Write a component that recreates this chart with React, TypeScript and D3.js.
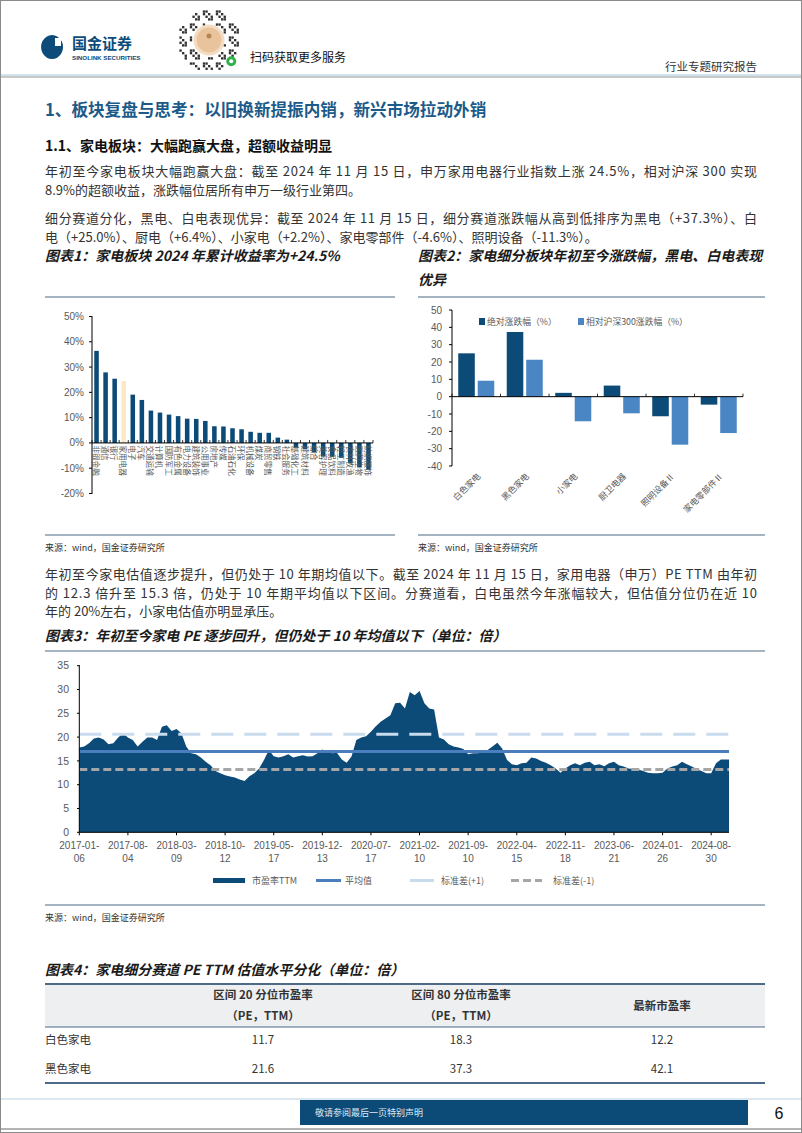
import React from 'react';
import * as d3 from 'd3';

// ---------- Chart 1 data ----------
const industryNames = ['非银金融','通信','银行','家用电器','电子','汽车','交通运输','计算机','国防军工','有色金属','电力设备','建筑装饰','公用事业','房地产','传媒','石油石化','环保','机械设备','煤炭','商贸零售','钢铁','社会服务','基础化工','建筑材料','综合','美容护理','食品饮料','轻工制造','农林牧渔','医药生物','纺织服饰'];
const industryReturns = [36.4, 27.9, 25.4, 24.5, 19.1, 17.0, 12.8, 12.0, 11.2, 10.6, 9.6, 9.5, 8.7, 6.6, 6.5, 5.8, 5.4, 4.4, 4.0, 4.0, 2.1, 1.3, -1.8, -2.4, -3.8, -5.4, -5.5, -5.9, -8.1, -9.7, -10.6];
const highlightIndustry = '家用电器';
const pctTicks = [50, 40, 30, 20, 10, 0, -10, -20];

// ---------- Chart 2 data ----------
const segNames = ['白色家电','黑色家电','小家电','厨卫电器','照明设备Ⅱ','家电零部件Ⅱ'];
const segAbs = [25.0, 37.3, 2.2, 6.4, -11.3, -4.6];
const segRel = [9.2, 21.3, -14.2, -9.6, -27.7, -21.0];
const segSeries = ['绝对涨跌幅（%）', '相对沪深300涨跌幅（%）'];
const segTicks = [50, 40, 30, 20, 10, 0, -10, -20, -30, -40];

// ---------- Chart 3 data (PE TTM, sampled every 3 weeks) ----------
const peValues = [
  17.8, 18.0, 18.7, 19.7, 19.9, 19.5, 18.5, 18.7, 19.9, 20.8,
  19.9, 19.4, 18.0, 19.0, 19.9, 19.9, 19.4, 22.2, 22.5, 21.3,
  21.7, 20.8, 18.0, 16.6, 16.4, 15.7, 14.8, 14.1, 12.9, 12.4,
  12.0, 11.7, 11.5, 11.1, 10.8, 11.8, 12.4, 13.4, 15.2, 17.3,
  16.0, 15.7, 16.0, 16.4, 15.7, 16.0, 16.2, 15.9, 16.0, 16.6,
  17.4, 16.9, 16.6, 16.7, 15.3, 14.6, 15.9, 19.4, 19.9, 20.2,
  21.1, 22.3, 23.2, 23.9, 24.6, 27.1, 27.2, 26.0, 29.5, 28.8,
  29.7, 27.1, 26.0, 25.8, 19.9, 19.5, 18.5, 18.0, 17.8, 17.5,
  16.4, 16.6, 16.6, 16.9, 17.3, 18.0, 18.8, 17.6, 15.2, 14.3,
  14.1, 14.5, 14.6, 15.7, 15.5, 15.0, 14.6, 14.1, 13.4, 12.5,
  13.4, 14.1, 14.5, 14.1, 14.6, 14.8, 14.1, 14.3, 13.9, 14.5,
  14.8, 14.1, 13.8, 13.4, 13.3, 13.2, 12.9, 12.5, 12.4, 12.4,
  12.5, 13.4, 13.8, 14.1, 14.8, 14.3, 13.8, 13.3, 12.9, 12.4,
  12.4, 14.5, 15.3, 15.3
];
const peSampleStep = 3;
const peLatestWeek = 401;
const peLatest = 15.3;
const peMean = 17.0;
const peUpper = 20.6;
const peLower = 13.2;
const peTickWeeks = [0, 30, 60, 90, 120, 150, 180, 210, 240, 270, 300, 330, 360, 390];
const peTickLabels = ['2017-01-06','2017-08-04','2018-03-09','2018-10-12','2019-05-17','2019-12-13','2020-07-17','2021-02-10','2021-09-10','2022-04-15','2022-11-18','2023-06-21','2024-01-26','2024-08-30'];
const peYTicks = [0, 5, 10, 15, 20, 25, 30, 35];
const peLegend = ['市盈率TTM', '平均值', '标准差(+1)', '标准差(-1)'];

// ---------- Table data ----------
const tableRowNames = ['白色家电', '黑色家电'];
const tablePe20 = ['11.7', '21.6'];
const tablePe80 = ['18.3', '37.3'];
const tablePeNow = ['12.2', '42.1'];

const cjk = '"Noto Sans CJK SC", "Noto Sans", sans-serif';
const latin = '"Liberation Sans", Arial, sans-serif';
const navy = '#0c4a77';
const midBlue = '#4a86c4';
const axisGray = '#595959';
const textCol = '#333333';

function QRDecor({ cx, cy, r }: { cx: number; cy: number; r: number }) {
  const cells: JSX.Element[] = [];
  const s = 2.6;
  for (let i = -14; i <= 14; i++) {
    for (let j = -14; j <= 14; j++) {
      const px = cx + i * s, py = cy + j * s;
      const d = Math.hypot(i * s, j * s);
      if (d > r || d < r * 0.52) continue;
      if (((i * 7 + j * 13 + i * j) % 5 + 5) % 5 < 2) {
        cells.push(<rect key={i + '_' + j} x={px} y={py} width={s * 0.9} height={s * 0.9} fill="#333" />);
      }
    }
  }
  return (
    <g>
      {cells}
      <circle cx={cx + 1} cy={cy + 1} r={r * 0.5} fill="#f3dcc1" />
      <circle cx={cx + 1} cy={cy + 1} r={r * 0.4} fill="#e9c39b" />
      <circle cx={cx + 1} cy={cy - 3} r={2.5} fill="#b78553" />
      <circle cx={cx + r * 0.75} cy={cy + r * 0.72} r={5} fill="#2fb14b" />
      <circle cx={cx + r * 0.75} cy={cy + r * 0.72} r={2} fill="#fff" />
    </g>
  );
}

export default function App() {
  // Chart 1 scales
  const x1 = d3.scaleBand<string>().domain(industryNames).range([92, 373]).paddingInner(0.5).paddingOuter(0.25);
  const y1 = d3.scaleLinear().domain([-20, 50]).range([493.5, 316.5]);
  const step1 = x1.step();

  // Chart 2 scales
  const x2 = d3.scaleBand<string>().domain(segNames).range([452, 743]);
  const x2i = d3.scaleBand<string>().domain(['abs', 'rel']).range([0, x2.bandwidth()]).paddingInner(0.15).paddingOuter(0.32);
  const y2 = d3.scaleLinear().domain([-40, 50]).range([466, 310]);

  // Chart 3 scales
  const x3 = d3.scaleLinear().domain([0, peLatestWeek]).range([79.3, 729]);
  const y3 = d3.scaleLinear().domain([0, 35]).range([832.3, 665.7]);
  const peSeries = peValues.map((v, i) => ({ w: i * peSampleStep, v }));
  peSeries.push({ w: peLatestWeek, v: peLatest });
  const areaGen = d3.area<{ w: number; v: number }>().x(d => x3(d.w)).y0(y3(0)).y1(d => y3(d.v));

  const para = (y: number, s: string, full: boolean) => (
    <text x={45} y={y} fontFamily={cjk} fontSize={13} fill={textCol} {...(full ? { textLength: 712, lengthAdjust: 'spacing' } : {})}>{s}</text>
  );

  return (
    <svg width={802} height={1133} viewBox="0 0 802 1133" style={{ position: 'absolute', left: 0, top: 0, background: '#fff' }}>
      <rect x={0} y={0} width={802} height={1133} fill="#fff" />
      <rect x={0.5} y={0.5} width={801} height={1132} fill="none" stroke="#8a8a8a" strokeWidth={1} />

      {/* Header */}
      <g>
        <path d="M52,35 a11,12 0 1,0 0.1,0 z" fill="#0d4c7a" />
        <path d="M55,38 l6,0 l0,8 l-6,0 z" fill="#fff" />
        <text x={72} y={49} fontFamily={cjk} fontWeight={700} fontSize={15} fill="#0d4c7a">国金证券</text>
        <text x={72} y={60} fontFamily={latin} fontWeight={700} fontSize={6.2} fill="#0d4c7a">SINOLINK SECURITIES</text>
        <QRDecor cx={208} cy={39} r={31} />
        <text x={250} y={62} fontFamily={cjk} fontSize={12} fill="#111">扫码获取更多服务</text>
        <text x={757} y={71} textAnchor="end" fontFamily={cjk} fontSize={11.5} fill={textCol}>行业专题研究报告</text>
        <rect x={1} y={74} width={800} height={2.5} fill="#d3e3ee" />
        <line x1={1} x2={801} y1={77} y2={77} stroke="#9a9a9a" strokeWidth={1} />
      </g>

      {/* Headings & paragraphs */}
      <text x={45} y={116} fontFamily={cjk} fontWeight={700} fontSize={16.6} fill="#1b5a89">1、板块复盘与思考：以旧换新提振内销，新兴市场拉动外销</text>
      <text x={45} y={151} fontFamily={cjk} fontWeight={700} fontSize={14} fill="#111">1.1、家电板块：大幅跑赢大盘，超额收益明显</text>
      {para(176, '年初至今家电板块大幅跑赢大盘：截至 2024 年 11 月 15 日，申万家用电器行业指数上涨 24.5%，相对沪深 300 实现', true)}
      {para(195, '8.9%的超额收益，涨跌幅位居所有申万一级行业第四。', false)}
      {para(223, '细分赛道分化，黑电、白电表现优异：截至 2024 年 11 月 15 日，细分赛道涨跌幅从高到低排序为黑电（+37.3%）、白', true)}
      {para(242, '电（+25.0%）、厨电（+6.4%）、小家电（+2.2%）、家电零部件（-4.6%）、照明设备（-11.3%）。', false)}

      <text x={45} y={261} fontFamily={cjk} fontWeight={700} fontStyle="italic" fontSize={14} fill="#1a1a1a">图表1：家电板块 2024 年累计收益率为+24.5%</text>
      <text x={418} y={261} fontFamily={cjk} fontWeight={700} fontStyle="italic" fontSize={14} fill="#1a1a1a">图表2：家电细分板块年初至今涨跌幅，黑电、白电表现</text>
      <text x={418} y={285} fontFamily={cjk} fontWeight={700} fontStyle="italic" fontSize={14} fill="#1a1a1a">优异</text>
      <line x1={45} x2={395} y1={297} y2={297} stroke="#4d6a88" strokeWidth={1.2} />
      <line x1={418} x2={765} y1={297} y2={297} stroke="#4d6a88" strokeWidth={1.2} />

      {/* Chart 1 */}
      <g>
        {pctTicks.map(t => (
          <g key={t}>
            <line x1={89} x2={92} y1={y1(t)} y2={y1(t)} stroke="#000" strokeWidth={1} />
            <text x={84} y={y1(t)} dy="0.35em" textAnchor="end" fontFamily={latin} fontSize={10} fill={axisGray}>{t + '%'}</text>
          </g>
        ))}
        {industryNames.map((n, i) => {
          const v = industryReturns[i];
          return (
            <rect key={n} x={x1(n)} y={y1(Math.max(0, v))} width={x1.bandwidth()} height={Math.abs(y1(v) - y1(0))}
              fill={n === highlightIndustry ? '#fde8c4' : navy} />
          );
        })}
        <line x1={92} x2={92} y1={316} y2={494} stroke="#000" strokeWidth={1} />
        <line x1={92} x2={373} y1={y1(0)} y2={y1(0)} stroke="#000" strokeWidth={1} />
        {d3.range(industryNames.length + 1).map(i => (
          <line key={i} x1={92 + i * step1} x2={92 + i * step1} y1={y1(0) - 3} y2={y1(0)} stroke="#000" strokeWidth={0.8} />
        ))}
        {industryNames.map(n => (
          <text key={n} transform={`translate(${(x1(n) as number) + x1.bandwidth() / 2},${y1(0) + 2.5}) rotate(90)`}
            dominantBaseline="central" fontFamily={cjk} fontSize={7.6} fill={axisGray}>{n}</text>
        ))}
      </g>

      {/* Chart 2 */}
      <g>
        {segTicks.map(t => (
          <g key={t}>
            <line x1={449} x2={452} y1={y2(t)} y2={y2(t)} stroke="#000" strokeWidth={1} />
            <text x={442} y={y2(t)} dy="0.35em" textAnchor="end" fontFamily={latin} fontSize={10} fill={axisGray}>{t}</text>
          </g>
        ))}
        {segNames.map((n, i) => (
          <g key={n}>
            <rect x={(x2(n) as number) + (x2i('abs') as number)} y={y2(Math.max(0, segAbs[i]))} width={x2i.bandwidth()} height={Math.abs(y2(segAbs[i]) - y2(0))} fill={navy} />
            <rect x={(x2(n) as number) + (x2i('rel') as number)} y={y2(Math.max(0, segRel[i]))} width={x2i.bandwidth()} height={Math.abs(y2(segRel[i]) - y2(0))} fill={midBlue} />
          </g>
        ))}
        <line x1={452} x2={452} y1={310} y2={466} stroke="#000" strokeWidth={1} />
        <line x1={452} x2={743} y1={y2(0)} y2={y2(0)} stroke="#000" strokeWidth={1} />
        {d3.range(segNames.length + 1).map(i => (
          <line key={i} x1={452 + i * x2.step()} x2={452 + i * x2.step()} y1={y2(0) - 3} y2={y2(0)} stroke="#000" strokeWidth={0.8} />
        ))}
        {segNames.map(n => (
          <text key={n} transform={`translate(${(x2(n) as number) + x2.bandwidth() / 2 + 2},${474}) rotate(-45)`}
            textAnchor="end" dominantBaseline="central" fontFamily={cjk} fontSize={8.6} fill={axisGray}>{n}</text>
        ))}
        <rect x={479} y={318} width={6} height={7} fill={navy} />
        <text x={487} y={322} dy="0.35em" fontFamily={cjk} fontSize={8.8} fill={axisGray}>{segSeries[0]}</text>
        <rect x={578} y={318} width={6} height={7} fill={midBlue} />
        <text x={586} y={322} dy="0.35em" fontFamily={cjk} fontSize={8.8} fill={axisGray}>{segSeries[1]}</text>
      </g>

      <line x1={45} x2={395} y1={535} y2={535} stroke="#4d6a88" strokeWidth={1.2} />
      <line x1={418} x2={765} y1={535} y2={535} stroke="#4d6a88" strokeWidth={1.2} />
      <text x={45} y={551} fontFamily={cjk} fontSize={9} fill={textCol}>来源：wind，国金证券研究所</text>
      <text x={418} y={551} fontFamily={cjk} fontSize={9} fill={textCol}>来源：wind，国金证券研究所</text>

      {para(579, '年初至今家电估值逐步提升，但仍处于 10 年期均值以下。截至 2024 年 11 月 15 日，家用电器（申万）PE TTM 由年初', true)}
      {para(598, '的 12.3 倍升至 15.3 倍，仍处于 10 年期平均值以下区间。分赛道看，白电虽然今年涨幅较大，但估值分位仍在近 10', true)}
      {para(616, '年的 20%左右，小家电估值亦明显承压。', false)}

      <text x={45} y={641} fontFamily={cjk} fontWeight={700} fontStyle="italic" fontSize={14} fill="#1a1a1a">图表3：年初至今家电 PE 逐步回升，但仍处于 10 年均值以下（单位：倍）</text>
      <line x1={45} x2={765} y1={651} y2={651} stroke="#4d6a88" strokeWidth={1.2} />

      {/* Chart 3 */}
      <g>
        <path d={areaGen(peSeries) as string} fill={navy} />
        <line x1={x3(0)} x2={x3(peLatestWeek)} y1={y3(peUpper)} y2={y3(peUpper)} stroke="#c9dcee" strokeWidth={3} strokeDasharray="22 11" />
        <line x1={x3(0)} x2={x3(peLatestWeek)} y1={y3(peMean)} y2={y3(peMean)} stroke="#4a7ebf" strokeWidth={3} />
        <line x1={x3(0)} x2={x3(peLatestWeek)} y1={y3(peLower)} y2={y3(peLower)} stroke="#a6a6a6" strokeWidth={3} strokeDasharray="8 4" />
        <line x1={79.3} x2={79.3} y1={665} y2={y3(0)} stroke="#000" strokeWidth={1} />
        <line x1={79.3} x2={x3(peLatestWeek)} y1={y3(0)} y2={y3(0)} stroke="#000" strokeWidth={1} />
        {peYTicks.map(t => (
          <g key={t}>
            <line x1={77} x2={79.3} y1={y3(t)} y2={y3(t)} stroke="#000" strokeWidth={1} />
            <text x={69} y={y3(t)} dy="0.35em" textAnchor="end" fontFamily={latin} fontSize={10.5} fill={axisGray}>{t}</text>
          </g>
        ))}
        {peTickWeeks.map((w, i) => {
          const lab = peTickLabels[i];
          return (
            <g key={w}>
              <line x1={x3(w)} x2={x3(w)} y1={y3(0)} y2={y3(0) + 3} stroke="#000" strokeWidth={1} />
              <text x={x3(w)} y={849} textAnchor="middle" fontFamily={latin} fontSize={10} fill={axisGray}>{lab.slice(0, 8)}</text>
              <text x={x3(w)} y={862} textAnchor="middle" fontFamily={latin} fontSize={10} fill={axisGray}>{lab.slice(8)}</text>
            </g>
          );
        })}
        {/* legend */}
        <rect x={213} y={878} width={32} height={5} fill={navy} />
        <text x={252} y={881} dy="0.35em" fontFamily={cjk} fontSize={9} fill={axisGray}>{peLegend[0]}</text>
        <line x1={316} x2={341} y1={880.5} y2={880.5} stroke="#4a7ebf" strokeWidth={3} />
        <text x={345} y={881} dy="0.35em" fontFamily={cjk} fontSize={9} fill={axisGray}>{peLegend[1]}</text>
        <line x1={410} x2={434} y1={880.5} y2={880.5} stroke="#c9dcee" strokeWidth={3} />
        <text x={441} y={881} dy="0.35em" fontFamily={cjk} fontSize={9} fill={axisGray}>{peLegend[2]}</text>
        <line x1={511} x2={542} y1={880.5} y2={880.5} stroke="#a6a6a6" strokeWidth={3} strokeDasharray="8 4" />
        <text x={553} y={881} dy="0.35em" fontFamily={cjk} fontSize={9} fill={axisGray}>{peLegend[3]}</text>
      </g>

      <line x1={45} x2={765} y1={905} y2={905} stroke="#4d6a88" strokeWidth={1.2} />
      <text x={45} y={921} fontFamily={cjk} fontSize={9} fill={textCol}>来源：wind，国金证券研究所</text>

      {/* Table */}
      <text x={45} y={975} fontFamily={cjk} fontWeight={700} fontStyle="italic" fontSize={14} fill="#1a1a1a">图表4：家电细分赛道 PE TTM 估值水平分化（单位：倍）</text>
      <rect x={45} y={984} width={720} height={43} fill="#eeeff1" />
      <line x1={45} x2={765} y1={984} y2={984} stroke="#4d6a88" strokeWidth={2} />
      <line x1={45} x2={765} y1={1027} y2={1027} stroke="#4d6a88" strokeWidth={1.2} />
      <line x1={45} x2={765} y1={1083} y2={1083} stroke="#4d6a88" strokeWidth={2} />
      <text x={263} y={999} textAnchor="middle" fontFamily={cjk} fontWeight={700} fontSize={11.5} fill={textCol}>区间 20 分位市盈率</text>
      <text x={263} y={1020} textAnchor="middle" fontFamily={cjk} fontWeight={700} fontSize={11.5} fill={textCol}>（PE，TTM）</text>
      <text x={461} y={999} textAnchor="middle" fontFamily={cjk} fontWeight={700} fontSize={11.5} fill={textCol}>区间 80 分位市盈率</text>
      <text x={461} y={1020} textAnchor="middle" fontFamily={cjk} fontWeight={700} fontSize={11.5} fill={textCol}>（PE，TTM）</text>
      <text x={662} y={1010} textAnchor="middle" fontFamily={cjk} fontWeight={700} fontSize={11.5} fill={textCol}>最新市盈率</text>
      {tableRowNames.map((r, i) => (
        <g key={r}>
          <text x={45} y={1044 + i * 29} fontFamily={cjk} fontSize={11.5} fill={textCol}>{r}</text>
          <text x={263} y={1044 + i * 29} textAnchor="middle" fontFamily={cjk} fontSize={11.5} fill={textCol}>{tablePe20[i]}</text>
          <text x={461} y={1044 + i * 29} textAnchor="middle" fontFamily={cjk} fontSize={11.5} fill={textCol}>{tablePe80[i]}</text>
          <text x={662} y={1044 + i * 29} textAnchor="middle" fontFamily={cjk} fontSize={11.5} fill={textCol}>{tablePeNow[i]}</text>
        </g>
      ))}

      {/* Footer */}
      <line x1={1} x2={801} y1={1099} y2={1099} stroke="#cfe0ea" strokeWidth={1.5} />
      <rect x={300} y={1100} width={448} height={25} fill={navy} />
      <text x={315} y={1116} fontFamily={cjk} fontSize={9} fill="#dfe8f0">敬请参阅最后一页特别声明</text>
      <text x={779} y={1119} textAnchor="middle" fontFamily={latin} fontSize={16} fill="#111">6</text>
      <line x1={1} x2={801} y1={1129} y2={1129} stroke="#9a9a9a" strokeWidth={1.5} />
    </svg>
  );
}
